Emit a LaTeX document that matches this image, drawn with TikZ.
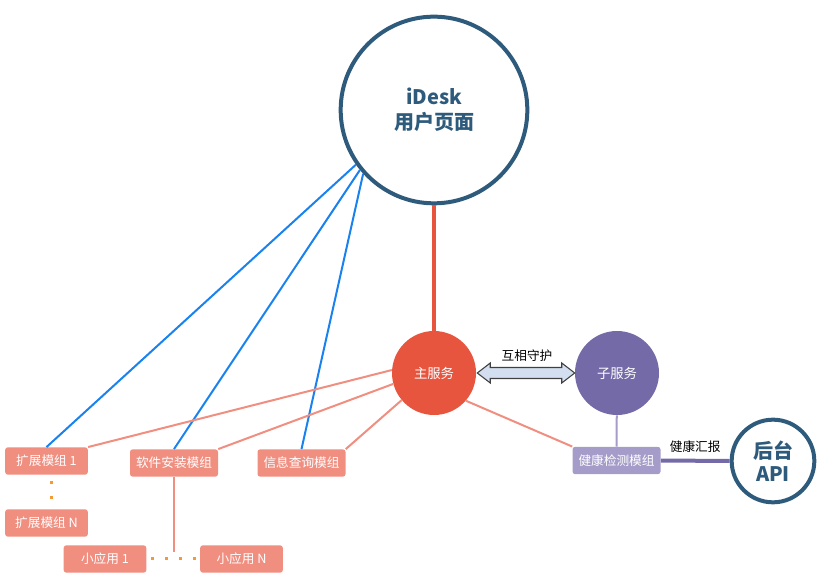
\documentclass[tikz,border=0pt]{standalone}
\usepackage{fontspec}
\setmainfont{Noto Sans CJK SC}
\usepackage{xcolor}
\usetikzlibrary{positioning, calc}

\definecolor{deskblue}{HTML}{2E5A7C}
\definecolor{mainred}{HTML}{E8553F}
\definecolor{subpurple}{HTML}{746AA8}
\definecolor{healthlav}{HTML}{A59CC9}
\definecolor{modsalmon}{HTML}{F08E80}
\definecolor{linkblue}{HTML}{1A82EE}
\definecolor{dotorange}{HTML}{F39A33}
\definecolor{arrowfill}{HTML}{D3DEF0}

\begin{document}
\begin{tikzpicture}[
    x=0.75pt, y=-0.75pt,
    bigcircle/.style={circle, draw=deskblue, line width=3pt, fill=white, text=deskblue, align=center, inner sep=0pt},
    service/.style={circle, minimum size=63pt, inner sep=0pt, text=white, font=\fontsize{10}{12}\selectfont},
    module/.style={rectangle, rounded corners=2pt, fill=modsalmon, text=white, minimum width=62pt, minimum height=20.5pt, inner xsep=4.5pt, inner ysep=0pt, font=\fontsize{9.5}{11}\selectfont},
    bluelink/.style={draw=linkblue, line width=1.5pt},
    redlink/.style={draw=modsalmon, line width=1.5pt},
    note/.style={font=\fontsize{9.5}{11}\selectfont, text=black}
]
\useasboundingbox (0,0) rectangle (825,580);

% top page and backend
\node[bigcircle, minimum size=140pt, font=\bfseries\fontsize{15}{19}\selectfont] (desk) at (434,110) {iDesk\\用户页面};
\node[bigcircle, minimum size=62pt, font=\bfseries\fontsize{15}{17}\selectfont] (api) at (773,461) {后台\\API};

% services
\node[service, fill=mainred] (main) at (434,373) {主服务};
\node[service, fill=subpurple] (sub) at (617,373) {子服务};

% modules
\node[module] (ext1) at (46.5,461) {扩展模组 1};
\node[module] (extN) at (46.5,523) {扩展模组 N};
\node[module] (soft) at (174,463) {软件安装模组};
\node[module] (info) at (301.5,463) {信息查询模组};
\node[module] (app1) at (105,559) {小应用 1};
\node[module] (appN) at (241.5,559) {小应用 N};
\node[module, fill=healthlav] (health) at (616.5,460.5) {健康检测模组};
\coordinate (appgap) at (174,552);

% links
\draw[draw=mainred, line width=3pt] (desk) -- (main);
\draw[bluelink] (desk.215) -- (ext1.north);
\draw[bluelink] (desk.219.5) -- (soft.north);
\draw[bluelink] (desk.222) -- (info.north);
\draw[redlink] (main.176) -- (ext1.north east);
\draw[redlink] (main.195) -- (soft.north east);
\draw[redlink] (main.220) -- (info.north east);
\draw[redlink] (main.319) -- (health.north west);
\draw[redlink] (soft) -- (appgap);
\draw[draw=healthlav, line width=1.5pt] (sub) -- (health);
\draw[draw=subpurple, line width=3pt] (health) -- node[note, above=1pt] {健康汇报} (api);

% mutual guard arrow
\draw[draw=black!75, fill=arrowfill, line width=0.8pt, line join=miter]
    ($(main.east)+(1,0)$) -- ++(13,-10) -- ++(0,4.5) -- ($(sub.west)+(-13,-5.5)$)
    -- ++(0,-4.5) -- (sub.west) -- ++(-13,10) -- ++(0,-4.5) -- ($(main.east)+(14,5.5)$)
    -- ++(0,4.5) -- cycle;
\node[note] (guard) at (527,356) {互相守护};

% dots
\foreach \y in {483,498}
    \fill[dotorange] (49.5,\y-1.5) rectangle ++(3,3);
\foreach \x in {152,166,180,194}
    \fill[dotorange] (\x-1.5,557.5) rectangle ++(3,3);
\end{tikzpicture}
\end{document}
